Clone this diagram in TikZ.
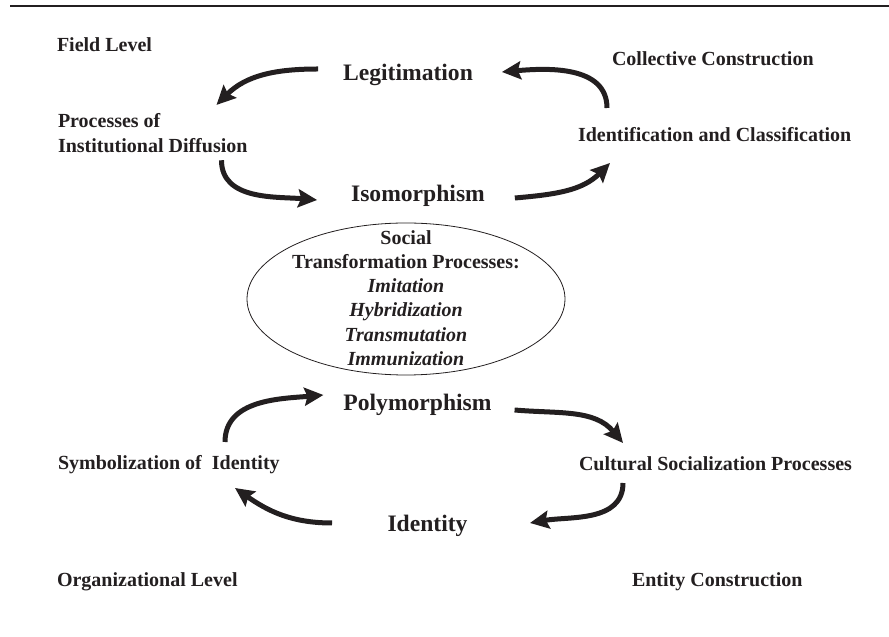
\documentclass[tikz,border=0pt]{standalone}
\usepackage{fontspec}
\setmainfont{Liberation Serif}
\usepackage{xcolor}
\usepackage{tikz}
\usetikzlibrary{arrows.meta,positioning}
\definecolor{ink}{RGB}{35,31,32}

\begin{document}
\begin{tikzpicture}[
  x=1pt, y=1pt,
  font=\bfseries\fontsize{20}{25}\selectfont,
  text=ink,
  every node/.style={inner sep=0pt, outer sep=0pt},
  side/.style={anchor=base west},
  stage/.style={anchor=base, font=\bfseries\fontsize{23.6}{28}\selectfont},
  arrow/.style={-{Stealth[length=19pt, width=18pt, inset=3pt]}, line width=5pt, draw=ink}
]
  \useasboundingbox (0,0) rectangle (889,637);
  \draw[line width=2.8pt, draw=ink] (10,631) -- (889,631);

  \node[side] (field) at (57,585) {Field Level};
  \node[side] (collective) at (612,571) {Collective Construction};
  \node[stage] (legit) at (408,556) {Legitimation};
  \node[anchor=west, align=left] (diffusion) at (58,504.4)
    {Processes of\\Institutional Diffusion};
  \node[side] (identif) at (578,495) {Identification and Classification};
  \node[stage] (iso) at (418,435) {Isomorphism};
  \node[align=center, font=\bfseries\fontsize{20}{24.2}\selectfont] (social) at (406,339)
    {Social\\Transformation Processes:\\\textit{Imitation}\\\textit{Hybridization}\\
     \textit{Transmutation}\\\textit{Immunization}};
  \draw[line width=0.8pt, draw=ink] ([yshift=-1pt]social.center) ellipse [x radius=159, y radius=76];
  \node[stage] (poly) at (417.5,226) {Polymorphism};
  \node[side] (symbol) at (58,167) {Symbolization of~ Identity};
  \node[side] (cultural) at (579,166.5) {Cultural Socialization Processes};
  \node[stage] (ident) at (427.5,105) {Identity};
  \node[side] (org) at (57,50) {Organizational Level};
  \node[side] (entity) at (632,50) {Entity Construction};

  \draw[arrow] ([xshift=-25pt,yshift=12pt]legit.base west) to[out=180,in=45]
    ([xshift=-31pt,yshift=8pt]diffusion.north east);
  \draw[arrow] ([xshift=29pt,yshift=34pt]identif.base west) to[out=90,in=5]
    ([xshift=29pt,yshift=9pt]legit.base east);
  \draw[arrow] ([xshift=-26pt,yshift=-8pt]diffusion.south east) to[out=270,in=175]
    ([xshift=-34pt,yshift=2pt]iso.base west);
  \draw[arrow] ([xshift=30pt,yshift=4pt]iso.base east) to[out=5,in=225]
    ([xshift=32pt,yshift=-21pt]identif.base west);
  \draw[arrow] ([xshift=167pt,yshift=28pt]symbol.base west) to[out=90,in=185]
    ([xshift=-20pt,yshift=16pt]poly.base west);
  \draw[arrow] ([xshift=23pt,yshift=1pt]poly.base east) to[out=-5,in=130]
    ([xshift=44pt,yshift=27.5pt]cultural.base west);
  \draw[arrow] ([xshift=44pt,yshift=-12.5pt]cultural.base west) to[out=270,in=10]
    ([xshift=62.5pt,yshift=9pt]ident.base east);
  \draw[arrow] ([xshift=-55.5pt,yshift=9pt]ident.base west) to[out=180,in=-35]
    ([xshift=177pt,yshift=-18pt]symbol.base west);
\end{tikzpicture}
\end{document}
